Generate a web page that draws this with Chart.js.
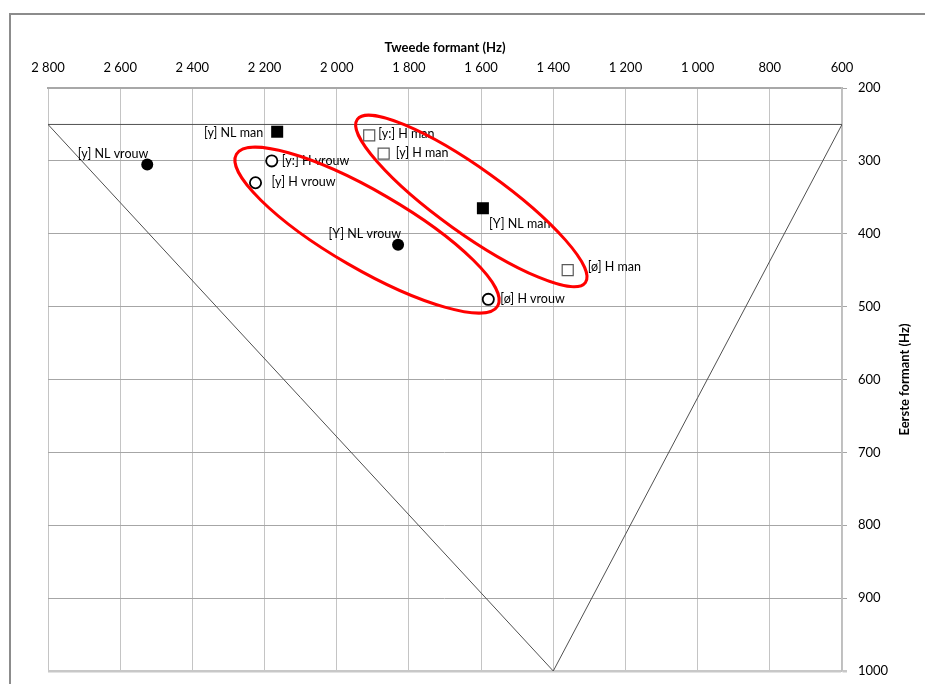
<!DOCTYPE html>
<html>
<head>
<meta charset="utf-8">
<script src="https://cdn.jsdelivr.net/npm/chart.js@4/dist/chart.umd.min.js"></script>
<style>
  html, body { margin: 0; padding: 0; background: #ffffff; }
  #wrap { width: 925px; height: 684px; }
</style>
</head>
<body>
<div id="wrap"><canvas id="c" width="925" height="684"></canvas></div>
<script>
// Formant values in Hz: F2 on the horizontal axis, F1 on the vertical axis
const nlManLabels = ['[y] NL man', '[Y] NL man'];
const nlManF2 = [2165, 1595];
const nlManF1 = [260, 365];

const nlVrouwLabels = ['[y] NL vrouw', '[Y] NL vrouw'];
const nlVrouwF2 = [2525, 1830];
const nlVrouwF1 = [305, 415];

const hManLabels = ['[y:] H man', '[y] H man', '[ø] H man'];
const hManF2 = [1910, 1870, 1360];
const hManF1 = [265, 290, 450];

const hVrouwLabels = ['[y:] H vrouw', '[y] H vrouw', '[ø] H vrouw'];
const hVrouwF2 = [2180, 2225, 1580];
const hVrouwF1 = [300, 330, 490];

// Vowel triangle corners
const triangleF2 = [2800, 600, 1400, 2800];
const triangleF1 = [250, 250, 1000, 250];

// Red groupings: centre, end of the long half-axis, end of the short half-axis (Hz)
const ellipseCentreF2 = [1916, 1627];
const ellipseCentreF1 = [395, 355];
const ellipseLongF2 = [1554, 1311];
const ellipseLongF1 = [499, 467];
const ellipseShortF2 = [1970, 1680];
const ellipseShortF1 = [441, 391];

// Axis ticks
const xTickValues = [600, 800, 1000, 1200, 1400, 1600, 1800, 2000, 2200, 2400, 2600, 2800];
const xTickLabels = ['600', '800', '1 000', '1 200', '1 400', '1 600', '1 800', '2 000', '2 200', '2 400', '2 600', '2 800'];
const yTickValues = [200, 300, 400, 500, 600, 700, 800, 900, 1000];
const yTickLabels = ['200', '300', '400', '500', '600', '700', '800', '900', '1000'];

const xTitle = 'Tweede formant (Hz)';
const yTitle = 'Eerste formant (Hz)';

// Label placement next to each marker (pixel offsets)
const nlManPlace = [{ dx: -14, dy: 1, align: 'right' }, { dx: 6, dy: 16, align: 'left' }];
const nlVrouwPlace = [{ dx: 1, dy: -11, align: 'right' }, { dx: 3, dy: -11, align: 'right' }];
const hManPlace = [{ dx: 9, dy: -1, align: 'left' }, { dx: 12, dy: -1, align: 'left' }, { dx: 20, dy: -3, align: 'left' }];
const hVrouwPlace = [{ dx: 10, dy: 0, align: 'left' }, { dx: 16, dy: -1, align: 'left' }, { dx: 12, dy: 0, align: 'left' }];

const FONT = 'Lato, "Open Sans", sans-serif';

function points(xs, ys) {
  return xs.map((x, i) => ({ x: x, y: ys[i] }));
}

function tickText(values, labels) {
  return function (value) {
    const i = values.indexOf(value);
    return i >= 0 ? labels[i] : '';
  };
}

// Outer frame of the chart object
const framePlugin = {
  id: 'frame',
  beforeDraw(chart) {
    const ctx = chart.ctx;
    ctx.save();
    ctx.strokeStyle = '#8c8c8c';
    ctx.lineWidth = 2;
    ctx.strokeRect(10, 14, chart.width + 20, chart.height + 20);
    ctx.restore();
  }
};

// Text labels beside the markers, then the red groupings on top
const annotatePlugin = {
  id: 'annotate',
  afterDatasetsDraw(chart) {
    const ctx = chart.ctx;
    ctx.save();
    ctx.font = '12.5px ' + FONT;
    ctx.fillStyle = '#000000';
    ctx.textBaseline = 'middle';
    chart.data.datasets.forEach((ds, di) => {
      if (!ds.pointLabels) return;
      const meta = chart.getDatasetMeta(di);
      meta.data.forEach((el, i) => {
        const p = ds.labelPlace[i];
        ctx.textAlign = p.align;
        ctx.fillText(ds.pointLabels[i], el.x + p.dx, el.y + p.dy);
      });
    });
    ctx.restore();

    const xs = chart.scales.x, ys = chart.scales.y;
    ctx.save();
    ctx.strokeStyle = '#ff0000';
    ctx.lineWidth = 3;
    for (let i = 0; i < ellipseCentreF2.length; i++) {
      const cx = xs.getPixelForValue(ellipseCentreF2[i]);
      const cy = ys.getPixelForValue(ellipseCentreF1[i]);
      const ux = xs.getPixelForValue(ellipseLongF2[i]) - cx;
      const uy = ys.getPixelForValue(ellipseLongF1[i]) - cy;
      const vx = xs.getPixelForValue(ellipseShortF2[i]) - cx;
      const vy = ys.getPixelForValue(ellipseShortF1[i]) - cy;
      ctx.save();
      ctx.transform(ux, uy, vx, vy, cx, cy);
      ctx.beginPath();
      ctx.arc(0, 0, 1, 0, Math.PI * 2);
      ctx.restore();
      ctx.stroke();
    }
    ctx.restore();
  },
  afterDraw(chart) {
    const ctx = chart.ctx;
    const ca = chart.chartArea;
    ctx.save();
    ctx.font = 'bold 13px ' + FONT;
    ctx.fillStyle = '#000000';
    ctx.textAlign = 'center';
    ctx.textBaseline = 'middle';
    ctx.translate(905, (ca.top + ca.bottom) / 2);
    ctx.rotate(-Math.PI / 2);
    ctx.fillText(yTitle, 0, 0);
    ctx.restore();
  }
};

new Chart(document.getElementById('c'), {
  type: 'scatter',
  data: {
    datasets: [
      {
        data: points(nlManF2, nlManF1),
        pointLabels: nlManLabels,
        labelPlace: nlManPlace,
        pointStyle: 'rect',
        pointRadius: 8.5,
        backgroundColor: '#000000',
        borderColor: '#000000',
        borderWidth: 0
      },
      {
        data: points(nlVrouwF2, nlVrouwF1),
        pointLabels: nlVrouwLabels,
        labelPlace: nlVrouwPlace,
        pointStyle: 'circle',
        pointRadius: 6,
        backgroundColor: '#000000',
        borderColor: '#000000',
        borderWidth: 0
      },
      {
        data: points(hManF2, hManF1),
        pointLabels: hManLabels,
        labelPlace: hManPlace,
        pointStyle: 'rect',
        pointRadius: 7.8,
        backgroundColor: '#ffffff',
        borderColor: '#595959',
        borderWidth: 1.2
      },
      {
        data: points(hVrouwF2, hVrouwF1),
        pointLabels: hVrouwLabels,
        labelPlace: hVrouwPlace,
        pointStyle: 'circle',
        pointRadius: 5.6,
        backgroundColor: '#ffffff',
        borderColor: '#000000',
        borderWidth: 1.8
      },
      {
        data: points(triangleF2, triangleF1),
        showLine: true,
        pointRadius: 0,
        borderColor: '#505050',
        borderWidth: 1,
        tension: 0,
        fill: false
      }
    ]
  },
  options: {
    responsive: false,
    animation: false,
    devicePixelRatio: 1,
    events: [],
    layout: { padding: { left: 48, right: 0, top: 0, bottom: 13 } },
    plugins: { legend: { display: false }, tooltip: { enabled: false } },
    scales: {
      x: {
        type: 'linear',
        position: 'top',
        reverse: true,
        min: 600,
        max: 2800,
        afterBuildTicks(scale) { scale.ticks = xTickValues.map(v => ({ value: v })); },
        afterFit(scale) {
          scale.height = 88;
          scale.paddingLeft = 0;
          scale.paddingRight = 0;
        },
        ticks: {
          callback: tickText(xTickValues, xTickLabels),
          color: '#000000',
          font: { family: FONT, size: 13 },
          padding: 12,
          maxRotation: 0,
          autoSkip: false
        },
        grid: { color: '#c4c4c4', lineWidth: 1, drawTicks: false },
        border: { display: true, color: '#a8a8a8', width: 2 },
        title: {
          display: true,
          text: xTitle,
          color: '#000000',
          font: { family: FONT, size: 13, weight: 'bold' },
          padding: { top: 40, bottom: 0 }
        }
      },
      y: {
        type: 'linear',
        position: 'right',
        reverse: true,
        min: 200,
        max: 1000,
        afterBuildTicks(scale) { scale.ticks = yTickValues.map(v => ({ value: v })); },
        afterFit(scale) {
          scale.width = 83;
          scale.paddingTop = 0;
          scale.paddingBottom = 0;
        },
        ticks: {
          callback: tickText(yTickValues, yTickLabels),
          color: '#000000',
          font: { family: FONT, size: 13 },
          padding: 11,
          autoSkip: false
        },
        grid: {
          color: ctx => (ctx.tick && ctx.tick.value === 1000 ? '#c8c8c8' : '#a6a6a6'),
          lineWidth: ctx => (ctx.tick && ctx.tick.value === 1000 ? 2.5 : 1),
          drawTicks: true,
          tickLength: 5
        },
        border: { display: true, color: '#bfbfbf', width: 1.5 }
      }
    }
  },
  plugins: [framePlugin, annotatePlugin]
});
</script>
</body>
</html>
